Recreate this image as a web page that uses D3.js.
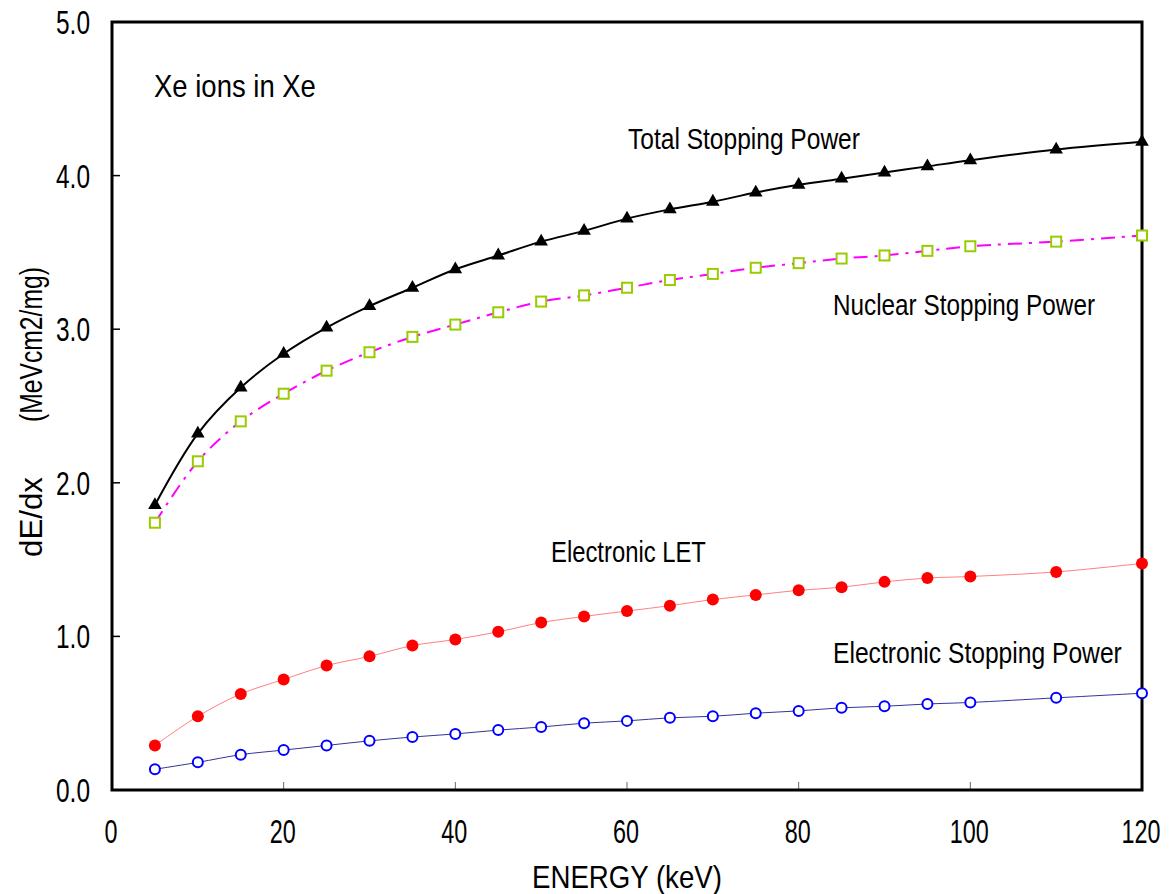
<!DOCTYPE html>
<html>
<head>
<meta charset="utf-8">
<script src="https://cdn.jsdelivr.net/npm/d3@7"></script>
<style>
html,body{margin:0;padding:0;background:#fff;}
text{font-family:"Liberation Sans",Arial,sans-serif;fill:#000;}
</style>
</head>
<body>
<svg id="chart" width="1170" height="894"></svg>
<script>
const energy = [5,10,15,20,25,30,35,40,45,50,55,60,65,70,75,80,85,90,95,100,110,120];
const totalSP = [1.855,2.32,2.62,2.84,3.01,3.15,3.27,3.39,3.48,3.57,3.64,3.72,3.78,3.83,3.89,3.94,3.98,4.02,4.06,4.10,4.17,4.22];
const nuclearSP = [1.74,2.14,2.40,2.58,2.73,2.85,2.95,3.03,3.11,3.18,3.22,3.27,3.32,3.36,3.40,3.43,3.46,3.48,3.51,3.54,3.57,3.61];
const electronicLET = [0.29,0.48,0.625,0.72,0.81,0.87,0.94,0.98,1.03,1.09,1.13,1.165,1.20,1.24,1.27,1.30,1.32,1.355,1.38,1.39,1.42,1.475];
const electronicSP = [0.135,0.18,0.23,0.26,0.29,0.32,0.345,0.365,0.39,0.41,0.435,0.45,0.47,0.48,0.50,0.515,0.535,0.545,0.56,0.57,0.60,0.63];
const xTicks = [0,20,40,60,80,100,120];
const yTicks = [0,1,2,3,4,5];

const svg = d3.select("#chart");
const L = 112, R = 1142, T = 22, B = 790;
const x = d3.scaleLinear().domain([0,120]).range([L,R]);
const y = d3.scaleLinear().domain([0,5]).range([B,T]);

// place a text so that it spans exactly `w` pixels horizontally, starting at x0
function narrowText(t, x0, base, w, size, rotate){
  const g = svg.append("g");
  const el = g.append("text").attr("font-size",size).attr("x",0).attr("y",0).text(t);
  const nat = el.node().getComputedTextLength();
  const sx = w / nat;
  if (rotate) g.attr("transform",`translate(${x0},${base}) rotate(-90) scale(${sx},1)`);
  else g.attr("transform",`translate(${x0},${base}) scale(${sx},1)`);
  return g;
}
const tw = s => s.split("").reduce((a,c)=>a+(c==="."?8:13),0);

// inner ticks
svg.append("g").selectAll("line").data(yTicks.slice(1,5)).join("line")
  .attr("x1",L).attr("x2",L+8).attr("y1",d=>y(d)).attr("y2",d=>y(d))
  .attr("stroke","#000").attr("stroke-width",1.5);
svg.append("g").selectAll("line").data(xTicks.slice(1,6)).join("line")
  .attr("x1",d=>x(d)).attr("x2",d=>x(d)).attr("y1",B).attr("y2",B-8)
  .attr("stroke","#666").attr("stroke-width",1);

// tick labels
yTicks.forEach(d=>{
  const s = d.toFixed(1);
  narrowText(s, 90 - tw(s), y(d)+12, tw(s), 33);
});
xTicks.forEach(d=>{
  const s = String(d);
  narrowText(s, x(d) - 1 - tw(s)/2, 843, tw(s), 33);
});

// series
function series(vals, opts){
  const pts = energy.map((e,i)=>[e, vals[i]]);
  const line = d3.line().x(d=>x(d[0])).y(d=>y(d[1])).curve(d3.curveCatmullRom);
  svg.append("path").attr("d",line(pts)).attr("fill","none")
    .attr("stroke",opts.stroke).attr("stroke-width",opts.sw)
    .attr("stroke-dasharray",opts.dash||null);
  return pts;
}
const pTot = series(totalSP,{stroke:"#000",sw:2});
const pNuc = series(nuclearSP,{stroke:"#ff00ff",sw:2,dash:"14,7,3,7"});
const pLET = series(electronicLET,{stroke:"#ff8080",sw:1});
const pES = series(electronicSP,{stroke:"#333399",sw:1});

// frame
svg.append("rect").attr("x",L).attr("y",T).attr("width",R-L).attr("height",B-T)
  .attr("fill","none").attr("stroke","#000").attr("stroke-width",3);

// markers
svg.append("g").selectAll("path").data(pTot).join("path")
  .attr("d",d3.symbol(d3.symbolTriangle,80))
  .attr("transform",d=>`translate(${x(d[0])},${y(d[1])})`).attr("fill","#000");
svg.append("g").selectAll("rect").data(pNuc).join("rect")
  .attr("x",d=>x(d[0])-5).attr("y",d=>y(d[1])-5).attr("width",10).attr("height",10)
  .attr("fill","#fff").attr("stroke","#99cc00").attr("stroke-width",2);
svg.append("g").selectAll("circle").data(pLET).join("circle")
  .attr("cx",d=>x(d[0])).attr("cy",d=>y(d[1])).attr("r",6).attr("fill","#ff0000");
svg.append("g").selectAll("circle").data(pES).join("circle")
  .attr("cx",d=>x(d[0])).attr("cy",d=>y(d[1])).attr("r",5)
  .attr("fill","#fff").attr("stroke","#0000ff").attr("stroke-width",2);

// annotations
narrowText("Xe  ions in Xe",154,97,162,31);
narrowText("Total Stopping Power",628,149,232,29);
narrowText("Nuclear Stopping Power",833,315,262,29);
narrowText("Electronic LET",551,562,155,29);
narrowText("Electronic Stopping Power",833,663,289,29);
narrowText("ENERGY  (keV)",532,888,190,32);

// y title
narrowText("dE/dx",42,557,80,32,true);
narrowText("(MeVcm2/mg)",42,422,155,32,true);
</script>
</body>
</html>
